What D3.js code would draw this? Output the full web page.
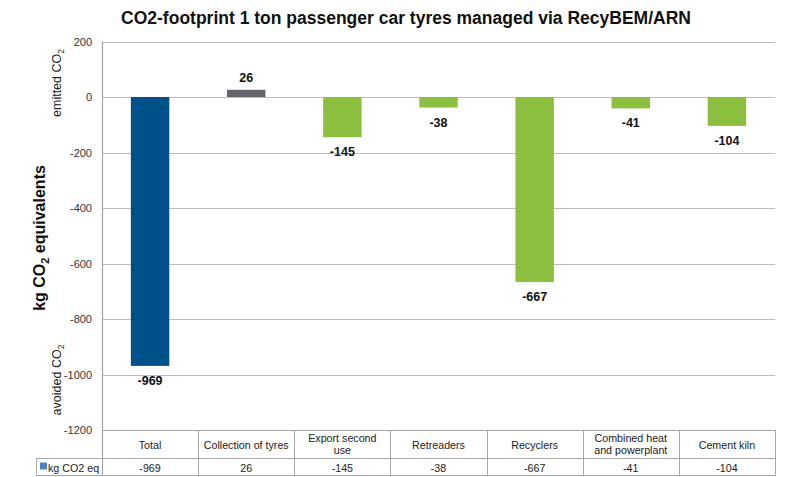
<!DOCTYPE html>
<html>
<head>
<meta charset="utf-8">
<script src="https://cdn.jsdelivr.net/npm/d3@7"></script>
<style>
  body { margin: 0; background: #fff; }
  text { font-family: "Liberation Sans", Arial, sans-serif; }
</style>
</head>
<body>
<svg id="chart" width="792" height="477"></svg>
<script>
// chart data
const categories = ['Total', 'Collection of tyres', 'Export second use', 'Retreaders', 'Recyclers', 'Combined heat and powerplant', 'Cement kiln'];
const tableLabels = [['Total'], ['Collection of tyres'], ['Export second', 'use'], ['Retreaders'], ['Recyclers'], ['Combined heat', 'and powerplant'], ['Cement kiln']];
const values = [-969, 26, -145, -38, -667, -41, -104];
const yTicks = [200, 0, -200, -400, -600, -800, -1000, -1200];
const seriesName = 'kg CO2 eq';

const colors = ['#00508a', '#63666a', '#8cbe40', '#8cbe40', '#8cbe40', '#8cbe40', '#8cbe40'];

const svg = d3.select('#chart');
const plotLeft = 102, plotRight = 775, plotTop = 41.5, plotBottom = 430;

// scales
const x = d3.scaleBand()
    .domain(categories)
    .range([plotLeft, plotRight])
    .paddingInner(0.6)
    .paddingOuter(0.3);

const col = d3.scaleBand()
    .domain(categories)
    .range([plotLeft, plotRight]);

const y = d3.scaleLinear()
    .domain([-1200, 200])
    .range([plotBottom, plotTop]);

// gridlines
svg.append('g')
    .selectAll('line')
    .data(yTicks)
    .join('line')
    .attr('x1', plotLeft)
    .attr('x2', plotRight)
    .attr('y1', d => Math.round(y(d)) + 0.5)
    .attr('y2', d => Math.round(y(d)) + 0.5)
    .attr('stroke', '#bcbcbc')
    .attr('stroke-width', 1.2);

// y axis (plain hyphen minus, like the original)
const yAxis = svg.append('g')
    .attr('transform', `translate(${plotLeft},0)`)
    .call(d3.axisLeft(y).tickValues(yTicks).tickSize(0).tickPadding(10).tickFormat(d => String(d)));
yAxis.select('.domain').remove();
yAxis.selectAll('text')
    .attr('font-size', 11)
    .attr('fill', '#333')
    .attr('font-family', '"Liberation Sans", Arial, sans-serif');

svg.append('line')
    .attr('x1', plotLeft + 0.5).attr('x2', plotLeft + 0.5)
    .attr('y1', plotTop).attr('y2', 475)
    .attr('stroke', '#a6a6a6')
    .attr('stroke-width', 1.2);

// bars
svg.append('g')
    .selectAll('rect')
    .data(values)
    .join('rect')
    .attr('x', (d, i) => x(categories[i]))
    .attr('width', x.bandwidth())
    .attr('y', d => y(Math.max(0, d)))
    .attr('height', d => Math.abs(y(d) - y(0)))
    .attr('fill', (d, i) => colors[i]);

// value labels
svg.append('g')
    .selectAll('text')
    .data(values)
    .join('text')
    .attr('x', (d, i) => x(categories[i]) + x.bandwidth() / 2)
    .attr('y', d => d >= 0 ? y(d) - 8 : y(d) + 19)
    .attr('text-anchor', 'middle')
    .attr('font-size', 12.5)
    .attr('font-weight', 'bold')
    .attr('fill', '#111')
    .text(d => d);

// data table
const rowTop = plotBottom, rowMid = 458.5, rowBot = 475.5;
const tableColor = '#a6a6a6';
const table = svg.append('g');
table.append('line').attr('x1', plotLeft).attr('x2', plotRight + 0.5).attr('y1', rowTop + 0.5).attr('y2', rowTop + 0.5).attr('stroke', tableColor);
table.append('line').attr('x1', 36).attr('x2', plotRight + 0.5).attr('y1', rowMid).attr('y2', rowMid).attr('stroke', tableColor);
table.append('line').attr('x1', 36).attr('x2', plotRight + 0.5).attr('y1', rowBot).attr('y2', rowBot).attr('stroke', tableColor);
table.append('line').attr('x1', 36.5).attr('x2', 36.5).attr('y1', rowMid).attr('y2', rowBot).attr('stroke', tableColor);
table.selectAll('.vline')
    .data(categories)
    .join('line')
    .attr('class', 'vline')
    .attr('x1', d => Math.round(col(d) + col.bandwidth()) + 0.5)
    .attr('x2', d => Math.round(col(d) + col.bandwidth()) + 0.5)
    .attr('y1', rowTop)
    .attr('y2', rowBot)
    .attr('stroke', tableColor);

// category labels
table.selectAll('.cat')
    .data(tableLabels)
    .join('text')
    .attr('class', 'cat')
    .attr('x', (d, i) => col(categories[i]) + col.bandwidth() / 2)
    .attr('y', d => d.length === 1 ? 448.5 : 442)
    .attr('text-anchor', 'middle')
    .attr('font-size', 10.7)
    .attr('fill', '#222')
    .each(function(d) {
        const cx = d3.select(this).attr('x');
        d3.select(this).selectAll('tspan')
            .data(d)
            .join('tspan')
            .attr('x', cx)
            .attr('dy', (t, j) => j === 0 ? 0 : 12)
            .text(t => t);
    });

// value row
table.selectAll('.val')
    .data(values)
    .join('text')
    .attr('class', 'val')
    .attr('x', (d, i) => col(categories[i]) + col.bandwidth() / 2)
    .attr('y', 471.5)
    .attr('text-anchor', 'middle')
    .attr('font-size', 10.7)
    .attr('fill', '#222')
    .text(d => d);

// legend key
table.append('rect')
    .attr('x', 40).attr('y', 462.5)
    .attr('width', 7).attr('height', 7)
    .attr('fill', '#4f81bd');
table.append('text')
    .attr('x', 48).attr('y', 471.5)
    .attr('font-size', 10.7)
    .attr('fill', '#222')
    .text(seriesName);

// title
svg.append('text')
    .attr('x', 406)
    .attr('y', 24)
    .attr('text-anchor', 'middle')
    .attr('font-size', 17.5)
    .attr('font-weight', 'bold')
    .attr('fill', '#111')
    .text('CO2-footprint 1 ton passenger car tyres managed via RecyBEM/ARN');

// y axis title
const yTitle = svg.append('text')
    .attr('transform', 'translate(45,238) rotate(-90)')
    .attr('text-anchor', 'middle')
    .attr('font-size', 16)
    .attr('font-weight', 'bold')
    .attr('fill', '#111');
yTitle.append('tspan').text('kg CO');
yTitle.append('tspan').attr('font-size', 11).attr('dy', 4).text('2');
yTitle.append('tspan').attr('dy', -4).text(' equivalents');

// emitted / avoided notes
function sideNote(cy, label) {
    const t = svg.append('text')
        .attr('transform', `translate(61,${cy}) rotate(-90)`)
        .attr('text-anchor', 'middle')
        .attr('font-size', 12.5)
        .attr('fill', '#222');
    t.append('tspan').text(label + ' CO');
    t.append('tspan').attr('font-size', 8.5).attr('dy', 3).text('2');
}
sideNote(83, 'emitted');
sideNote(380, 'avoided');
</script>
</body>
</html>
